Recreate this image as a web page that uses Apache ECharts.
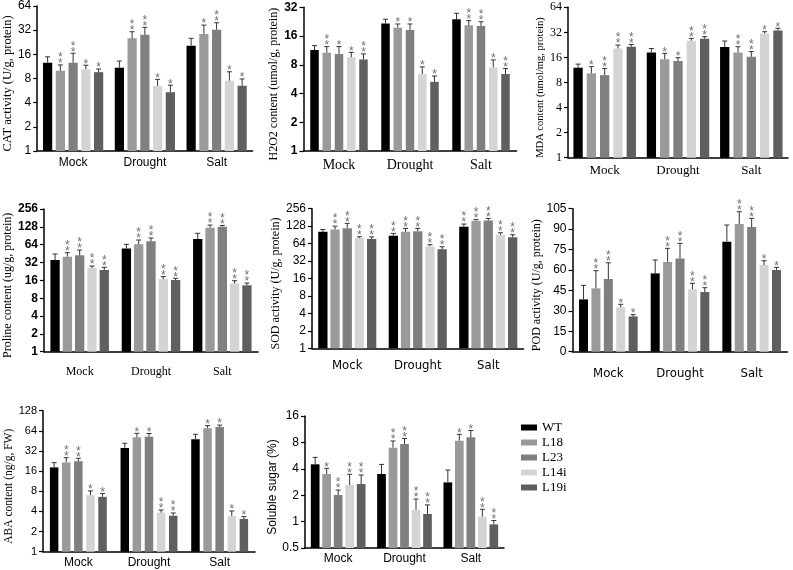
<!DOCTYPE html>
<html><head><meta charset="utf-8">
<script src="https://cdn.jsdelivr.net/npm/echarts@6/dist/echarts.min.js"></script>
<style>html,body{margin:0;padding:0;background:#fff}#c{width:793px;height:570px}</style>
</head><body><div id="c"></div>
<script>
const groups = ['Mock', 'Drought', 'Salt'];
const lines = ['WT', 'L18', 'L23', 'L14i', 'L19i'];

// rows = lines (WT, L18, L23, L14i, L19i); columns = groups (Mock, Drought, Salt)
const catMean = [[12.6, 10.9, 20.5], [10.0, 25.3, 28.6], [12.6, 28.0, 32.4], [10.4, 6.45, 7.5], [9.6, 5.4, 6.5]];
const catErr  = [[2.3, 2.3, 4.8], [1.8, 5.3, 8.4], [3.9, 6.7, 7.2], [1.3, 1.35, 2.2], [0.9, 1.2, 1.4]];
const catSig  = [['', '', ''], ['**', '**', '*'], ['**', '**', '**'], ['*', '*', '*'], ['*', '*', '*']];

const h2o2Mean = [[11.4, 21.7, 24.0], [10.7, 19.6, 20.7], [10.4, 18.5, 20.4], [9.6, 6.4, 7.5], [9.1, 5.3, 6.4]];
const h2o2Err  = [[1.3, 2.3, 3.7], [1.7, 1.8, 2.5], [2.0, 2.9, 2.2], [1.2, 1.2, 1.5], [1.3, 0.8, 0.9]];
const h2o2Sig  = [['', '', ''], ['**', '*', '**'], ['*', '*', '**'], ['*', '*', '*'], ['**', '*', '**']];

const mdaMean = [[12.0, 18.4, 21.3], [10.3, 15.2, 18.4], [9.8, 14.5, 16.3], [20.5, 25.4, 31.1], [21.5, 26.9, 33.8]];
const mdaErr  = [[1.3, 2.1, 3.9], [2.1, 2.7, 3.1], [2.0, 1.4, 2.5], [2.0, 1.7, 1.5], [1.4, 1.5, 2.0]];
const mdaSig  = [['', '', ''], ['*', '*', '**'], ['**', '*', '**'], ['**', '**', '*'], ['**', '**', '*']];

const proMean = [[35.3, 55.4, 79.7], [40.2, 64.8, 124], [42.3, 72.8, 129], [25.8, 16.8, 14.2], [23.9, 16.2, 13.2]];
const proErr  = [[9.3, 9.4, 19.8], [6.7, 11.9, 13], [9.7, 10.1, 6], [2.1, 1.7, 1.6], [2.6, 1.1, 1.2]];
const proSig  = [['', '', ''], ['**', '**', '**'], ['**', '**', '**'], ['**', '**', '**'], ['**', '**', '**']];

const sodMean = [[102, 87.4, 125], [112, 102, 159], [118, 105, 161], [79.7, 57.3, 89.9], [76.7, 50.9, 82.7]];
const sodErr  = [[10, 8.5, 14], [16, 15, 8], [25, 12, 13], [4.3, 4, 8.5], [7, 5.6, 8.4]];
const sodSig  = [['', '**', '**'], ['**', '**', '**'], ['**', '**', '**'], ['**', '**', '**'], ['**', '**', '**']];

const podMean = [[38.4, 57.5, 80.8], [46.5, 65.8, 93.7], [53.4, 68.5, 91.5], [32.6, 45.8, 63.6], [25.9, 43.8, 60.0]];
const podErr  = [[10.3, 9.8, 12.2], [13, 10.1, 9.1], [11.9, 11, 6.4], [2.2, 4.4, 3.2], [1.3, 3.2, 1.9]];
const podSig  = [['', '', ''], ['**', '**', '**'], ['**', '**', '**'], ['*', '**', '*'], ['*', '**', '*']];

const abaMean = [[18.2, 35.5, 47.8], [21.6, 51.2, 69.8], [22.4, 52.4, 73.0], [7.0, 3.83, 3.41], [6.6, 3.45, 3.08]];
const abaErr  = [[3.2, 6.2, 9], [3.8, 7.6, 6.8], [2.5, 6, 5], [1.1, 0.37, 0.65], [0.8, 0.34, 0.26]];
const abaSig  = [['', '', ''], ['**', '*', '*'], ['**', '*', '*'], ['*', '**', '*'], ['*', '**', '*']];

const sugMean = [[4.5, 3.49, 2.8], [3.49, 6.97, 8.38], [2.01, 7.67, 9.13], [2.61, 1.36, 1.14], [2.68, 1.22, 0.93]];
const sugErr  = [[0.9, 1.0, 1.07], [0.56, 1.33, 1.5], [0.28, 1.2, 1.8], [0.85, 0.45, 0.24], [0.72, 0.33, 0.1]];
const sugSig  = [['', '', ''], ['*', '**', '*'], ['**', '**', '*'], ['**', '**', '**'], ['**', '**', '**']];

const colors = ['#000000', '#9a9a9a', '#7f7f7f', '#d4d4d4', '#5f5f5f'];

const SANS = '"Liberation Sans", Arial, sans-serif';
const SERIF = '"Liberation Serif", "Times New Roman", serif';
const NARROW = '"Liberation Sans Narrow", "DejaVu Sans Condensed", sans-serif';

const panels = [
  {name: 'CAT activity (U/g, protein)', mean: catMean, err: catErr, sig: catSig, type: 'log', min: 1, max: 64,
   grid: {left: 36.5, top: 6, width: 216, height: 145}, bw: 9.2, pitch: 12.75,
   nameGap: 17, nameFont: SERIF, nameSize: 12.5, tickFont: SANS, tickSize: 12, tickWeight: 'normal',
   catFont: SANS, catSize: 12, catMargin: 6},
  {name: 'H2O2 content (umol/g, protein)', mean: h2o2Mean, err: h2o2Err, sig: h2o2Sig, type: 'log', min: 1, max: 32,
   grid: {left: 303.5, top: 7.3, width: 213, height: 143.7}, bw: 8.5, pitch: 12.25,
   nameGap: 22, nameFont: SERIF, nameSize: 12, tickFont: SANS, tickSize: 12, tickWeight: 'bold',
   catFont: SERIF, catSize: 14, catMargin: 7},
  {name: 'MDA content (nmol/mg, protein)', mean: mdaMean, err: mdaErr, sig: mdaSig, type: 'log', min: 1, max: 64,
   grid: {left: 568, top: 7.3, width: 220, height: 150.4}, bw: 9.3, pitch: 13.3,
   nameGap: 22, nameFont: SERIF, nameSize: 10.5, tickFont: SERIF, tickSize: 12, tickWeight: 'normal',
   catFont: SERIF, catSize: 13, catMargin: 6},
  {name: 'Proline content (ug/g, protein)', mean: proMean, err: proErr, sig: proSig, type: 'log', min: 1, max: 256,
   grid: {left: 44, top: 209, width: 214, height: 142.7}, bw: 9.3, pitch: 12.3,
   nameGap: 29.5, nameFont: SERIF, nameSize: 12, tickFont: SANS, tickSize: 12, tickWeight: 'bold',
   catFont: SERIF, catSize: 12, catMargin: 14},
  {name: 'SOD activity (U/g, protein)', mean: sodMean, err: sodErr, sig: sodSig, type: 'log', min: 1, max: 256,
   grid: {left: 312, top: 208.7, width: 211.5, height: 139.6}, bw: 9.3, pitch: 12.2,
   nameGap: 27, nameFont: SERIF, nameSize: 12, tickFont: SANS, tickSize: 12, tickWeight: 'normal',
   catFont: NARROW, catSize: 13, catMargin: 11},
  {name: 'POD activity (U/g, protein)', mean: podMean, err: podErr, sig: podSig, type: 'value', min: 0, max: 105, interval: 15,
   grid: {left: 572.5, top: 208.7, width: 215, height: 143}, bw: 9, pitch: 12.4,
   nameGap: 27.5, nameFont: SERIF, nameSize: 12, tickFont: SANS, tickSize: 12, tickWeight: 'normal',
   catFont: NARROW, catSize: 13, catMargin: 15},
  {name: 'ABA content (ng/g, FW)', mean: abaMean, err: abaErr, sig: abaSig, type: 'log', min: 1, max: 128,
   grid: {left: 43, top: 410.7, width: 212, height: 141}, bw: 8.5, pitch: 12.1,
   nameGap: 28, nameFont: SERIF, nameSize: 11.5, tickFont: SANS, tickSize: 11, tickWeight: 'normal',
   catFont: SANS, catSize: 12, catMargin: 5},
  {name: 'Soluble sugar (%)', mean: sugMean, err: sugErr, sig: sugSig, type: 'log', min: 0.5, max: 16, startValue: 0.5,
   grid: {left: 305, top: 416, width: 199, height: 132}, bw: 8.7, pitch: 11.5,
   nameGap: 19, nameFont: SANS, nameSize: 12, tickFont: SANS, tickSize: 12, tickWeight: 'normal',
   catFont: SANS, catSize: 12, catMargin: 5}
];

const grid = [], xAxis = [], yAxis = [], series = [];
panels.forEach((p, pi) => {
  grid.push(Object.assign({containLabel: false}, p.grid));
  xAxis.push({
    gridIndex: pi, type: 'category', data: groups,
    axisLine: {show: true, lineStyle: {color: '#000', width: 1.5}},
    axisTick: {show: false},
    axisLabel: {fontFamily: p.catFont, fontSize: p.catSize, color: '#000', margin: p.catMargin}
  });
  const ya = {
    gridIndex: pi, type: p.type, min: p.min, max: p.max,
    axisLine: {show: true, lineStyle: {color: '#000', width: 1.5}},
    axisTick: {show: true, length: 4, lineStyle: {color: '#000', width: 1.2}},
    splitLine: {show: false},
    axisLabel: {fontFamily: p.tickFont, fontSize: p.tickSize, fontWeight: p.tickWeight, color: '#000', margin: 6},
    name: p.name, nameLocation: 'middle', nameGap: p.nameGap,
    nameTextStyle: {fontFamily: p.nameFont, fontSize: p.nameSize, color: '#000', padding: [0, 0, 0, -10]}
  };
  if (p.type === 'log') ya.logBase = 2;
  if (p.interval) ya.interval = p.interval;
  if (p.startValue) ya.startValue = p.startValue;
  yAxis.push(ya);

  lines.forEach((ln, li) => {
    series.push({
      type: 'bar', name: ln, xAxisIndex: pi, yAxisIndex: pi,
      data: p.mean[li],
      barWidth: p.bw, barGap: ((p.pitch - p.bw) / p.bw * 100).toFixed(1) + '%',
      itemStyle: {color: colors[li]},
      emphasis: {disabled: true}, animation: false
    });
  });

  const edata = [];
  lines.forEach((ln, li) => {
    groups.forEach((g, ci) => {
      edata.push([ci, p.mean[li][ci] + p.err[li][ci], li, p.mean[li][ci]]);
    });
  });
  series.push({
    type: 'custom', name: 'err' + pi, xAxisIndex: pi, yAxisIndex: pi, z: 5,
    data: edata, encode: {x: 0, y: 1}, animation: false, clip: false,
    renderItem: function (params, api) {
      const ci = api.value(0), top = api.value(1), li = api.value(2), mean = api.value(3);
      const c0 = api.coord([ci, mean]);
      const c1 = api.coord([ci, top]);
      const x = c0[0] + (li - 2) * p.pitch;
      const children = [
        {type: 'line', shape: {x1: x, y1: c0[1], x2: x, y2: c1[1]}, style: {stroke: '#333', lineWidth: 1}},
        {type: 'line', shape: {x1: x - 2.5, y1: c1[1], x2: x + 2.5, y2: c1[1]}, style: {stroke: '#333', lineWidth: 1}}
      ];
      const s = p.sig[li][ci];
      for (let k = 0; k < s.length; k++) {
        children.push({type: 'text', x: x, y: c1[1] - 1 - k * 6,
          style: {text: '*', fill: '#707070', font: '12px ' + SANS,
                  align: 'center', verticalAlign: 'middle'}});
      }
      return {type: 'group', children: children};
    }
  });
});

const chart = echarts.init(document.getElementById('c'), null, {renderer: 'canvas'});
chart.setOption({
  animation: false,
  backgroundColor: '#fff',
  grid: grid, xAxis: xAxis, yAxis: yAxis, series: series,
  legend: {
    data: lines, orient: 'vertical', left: 516, top: 416,
    itemWidth: 16, itemHeight: 6, itemGap: 2, icon: 'rect',
    textStyle: {fontFamily: SERIF, fontSize: 13, color: '#000', lineHeight: 13},
    selectedMode: false
  }
});
</script></body></html>
